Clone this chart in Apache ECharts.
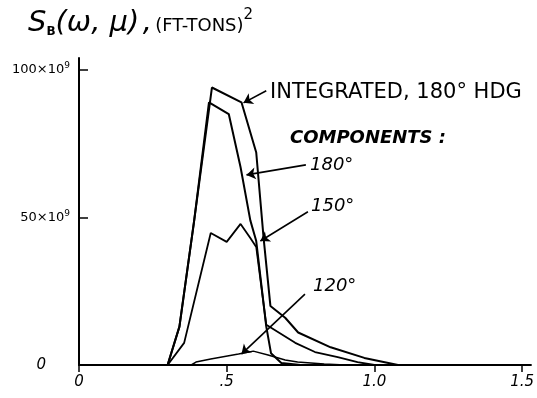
<!DOCTYPE html>
<html>
<head>
<meta charset="utf-8">
<script src="https://cdn.jsdelivr.net/npm/echarts@6/dist/echarts.min.js"></script>
<style>
  html, body { margin: 0; padding: 0; background: #fff; }
  #chart { width: 537px; height: 398px; }
</style>
</head>
<body>
<div id="chart"></div>
<script>
// frequency (rad/s) vs spectral density, x10^9 (FT-TONS)^2
const integrated = [
  [0.30, 0], [0.34, 13], [0.39, 49], [0.45, 94], [0.55, 89], [0.60, 72],
  [0.625, 43], [0.648, 20], [0.698, 16], [0.742, 11], [0.852, 6],
  [0.966, 2.4], [1.08, 0]
];
const comp180 = [
  [0.30, 0], [0.34, 13], [0.39, 49], [0.44, 89], [0.507, 85], [0.547, 67],
  [0.58, 49], [0.60, 42], [0.634, 13], [0.65, 4], [0.685, 0.7], [0.75, 0]
];
const comp150 = [
  [0.30, 0], [0.356, 7.5], [0.446, 44.7], [0.50, 41.7], [0.547, 47.8],
  [0.58, 43], [0.60, 40], [0.634, 13.6], [0.732, 7.5], [0.799, 4.4],
  [0.876, 2.7], [0.943, 1], [1.0, 0]
];
const comp120 = [
  [0.38, 0], [0.396, 1], [0.446, 2], [0.54, 3.7], [0.59, 4.7], [0.64, 3.4],
  [0.698, 1.7], [0.74, 1], [0.83, 0.3], [0.90, 0]
];
const xTicks = { 0: '0', 0.5: '.5', 1: '1.0', 1.5: '1.5' };
const yTicks = { 0: '{z|0}', 50: '50×10{sup|9}', 100: '100×10{sup|9}' };

// arrow annotations (tail -> tip) in data coords
const arrows = [
  [[0.634, 92.9], [0.557, 88.8]],
  [[0.768, 67.8], [0.567, 64.4]],
  [[0.775, 51.9], [0.614, 42.0]],
  [[0.765, 24.0], [0.55, 3.7]]
];

const font = 'DejaVu Sans';
const chart = echarts.init(document.getElementById('chart'));

const mkSeries = (name, data, w) => ({
  name: name,
  type: 'line',
  data: data,
  symbol: 'none',
  lineStyle: { color: '#000', width: w },
  z: 3
});

const series = [
  mkSeries('Integrated, 180° HDG', integrated, 2),
  mkSeries('180°', comp180, 2),
  mkSeries('150°', comp150, 1.8),
  mkSeries('120°', comp120, 1.5)
];
series[0].markLine = {
  silent: true,
  symbol: ['none', 'arrow'],
  symbolSize: 9,
  lineStyle: { color: '#000', width: 1.6, type: 'solid' },
  label: { show: false },
  data: arrows.map(a => [{ coord: a[0] }, { coord: a[1] }])
};

chart.setOption({
  animation: false,
  backgroundColor: '#fff',
  grid: { left: 79, right: 2, top: 58, bottom: 33 },
  xAxis: {
    type: 'value',
    min: 0,
    max: 1.53,
    interval: 0.5,
    axisLine: { lineStyle: { color: '#000', width: 2 } },
    axisTick: { show: true, inside: false, length: 7, lineStyle: { color: '#000', width: 1.5 } },
    splitLine: { show: false },
    axisLabel: {
      color: '#000', fontFamily: font, fontSize: 15, fontStyle: 'italic', margin: 10,
      showMaxLabel: false,
      formatter: v => xTicks[v] !== undefined ? xTicks[v] : ''
    }
  },
  yAxis: {
    type: 'value',
    min: 0,
    max: 104,
    interval: 50,
    axisLine: { show: true, lineStyle: { color: '#000', width: 2 } },
    axisTick: { show: true, inside: true, length: 9, lineStyle: { color: '#000', width: 1.5 } },
    splitLine: { show: false },
    axisLabel: {
      color: '#000', fontFamily: font, fontSize: 13, margin: 9, showMaxLabel: false,
      formatter: v => yTicks[v] !== undefined ? yTicks[v] : '',
      rich: {
        sup: { fontSize: 9, verticalAlign: 'top', padding: [0, 0, 8, 0], color: '#000', fontFamily: font },
        z: { fontSize: 15, fontStyle: 'italic', color: '#000', fontFamily: font, padding: [0, 24, 0, 0] }
      }
    }
  },
  graphic: [
    {
      type: 'text', left: 28, top: 8,
      style: {
        text: '{s|S}{b|B}{s|(ω, μ)} {s|,} {u|(FT-TONS)}{p|2}',
        rich: {
          s: { fontFamily: font, fontSize: 29, fontStyle: 'italic', fill: '#000' },
          b: { fontFamily: font, fontSize: 12, fontWeight: 'bold', fill: '#000', padding: [16, 0, 0, 0] },
          u: { fontFamily: font, fontSize: 18, fill: '#000', padding: [6, 0, 0, 0] },
          p: { fontFamily: font, fontSize: 15, fill: '#000', padding: [0, 0, 16, 0] }
        }
      }
    },
    { type: 'text', left: 270, top: 82,
      style: { text: 'INTEGRATED, 180° HDG', fontFamily: font, fontSize: 21, fill: '#000' } },
    { type: 'text', left: 290, top: 129,
      style: { text: 'COMPONENTS :', fontFamily: font, fontSize: 18, fontStyle: 'italic', fontWeight: 'bold', fill: '#000' } },
    { type: 'text', left: 310, top: 156,
      style: { text: '180°', fontFamily: font, fontSize: 18, fontStyle: 'italic', fill: '#000' } },
    { type: 'text', left: 311, top: 197,
      style: { text: '150°', fontFamily: font, fontSize: 18, fontStyle: 'italic', fill: '#000' } },
    { type: 'text', left: 313, top: 277,
      style: { text: '120°', fontFamily: font, fontSize: 18, fontStyle: 'italic', fill: '#000' } }
  ],
  series: series
});
</script>
</body>
</html>
